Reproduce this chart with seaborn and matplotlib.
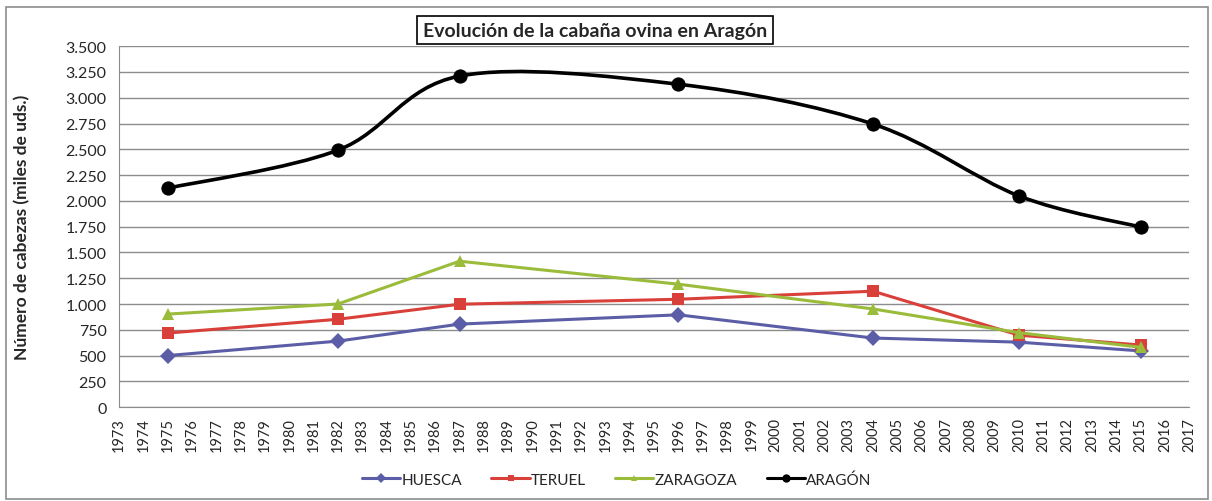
import matplotlib
matplotlib.use("Agg")
import matplotlib.pyplot as plt
import seaborn as sns
import numpy as np
import pandas as pd
from matplotlib.path import Path
from matplotlib.patches import PathPatch, Rectangle
from matplotlib.lines import Line2D

# Data (miles de cabezas)
years = [1975, 1982, 1987, 1996, 2004, 2010, 2015]
huesca = [500, 640, 805, 895, 670, 630, 545]
teruel = [718, 852, 998, 1046, 1124, 698, 602]
zaragoza = [902, 1000, 1415, 1192, 952, 722, 580]
aragon = [2123, 2492, 3210, 3131, 2745, 2048, 1746]

x_ticks = list(range(1973, 2018))
y_ticks = list(range(0, 3501, 250))

colors = {"HUESCA": "#5b5ea6", "TERUEL": "#d9403a", "ZARAGOZA": "#9bbb3b", "ARAGÓN": "#000000"}
markers = {"HUESCA": "D", "TERUEL": "s", "ZARAGOZA": "^", "ARAGÓN": "o"}


def fmt_thousands(v):
    return f"{int(v):,}".replace(",", ".")


def smooth_path(xs, ys, tension=1 / 6):
    # Catmull-Rom style bezier path, like Excel's smoothed line
    xs = np.asarray(xs, float)
    ys = np.asarray(ys, float)
    verts = [(xs[0], ys[0])]
    codes = [Path.MOVETO]
    n = len(xs)
    for i in range(n - 1):
        x0, y0 = (xs[i - 1], ys[i - 1]) if i > 0 else (xs[i], ys[i])
        x3, y3 = (xs[i + 2], ys[i + 2]) if i + 2 < n else (xs[i + 1], ys[i + 1])
        c1 = (xs[i] + (xs[i + 1] - x0) * tension, ys[i] + (ys[i + 1] - y0) * tension)
        c2 = (xs[i + 1] - (x3 - xs[i]) * tension, ys[i + 1] - (y3 - ys[i]) * tension)
        verts += [c1, c2, (xs[i + 1], ys[i + 1])]
        codes += [Path.CURVE4] * 3
    return Path(verts, codes)


sns.set_style("white")
plt.rcParams["font.family"] = ["Lato", "DejaVu Sans"]

fig = plt.figure(figsize=(12.12, 5.02), dpi=100)
ax = fig.add_axes([0.0982, 0.187, 0.883, 0.719])

df = pd.DataFrame({"year": years, "HUESCA": huesca, "TERUEL": teruel, "ZARAGOZA": zaragoza})
long_df = df.melt(id_vars="year", var_name="serie", value_name="valor")
sns.lineplot(data=long_df, x="year", y="valor", hue="serie", style="serie",
             palette=colors, markers=markers, dashes=False, linewidth=2.2,
             markersize=8, markeredgewidth=0, legend=False, ax=ax)

# Aragón total: smoothed line + markers
ax.add_patch(PathPatch(smooth_path(years, aragon), facecolor="none",
                       edgecolor="black", linewidth=2.6, zorder=3))
sns.scatterplot(x=years, y=aragon, color="black", s=90, marker="o",
                edgecolor="black", zorder=4, ax=ax)

ax.set_xlim(1973, 2017)
ax.set_ylim(0, 3500)
ax.set_xticks(x_ticks)
ax.set_xticklabels([str(y) for y in x_ticks], rotation=90, fontsize=10.5)
ax.set_yticks(y_ticks)
ax.set_yticklabels([fmt_thousands(v) for v in y_ticks], fontsize=11.5)
ax.grid(axis="y", color="#8c8c8c", linewidth=1)
ax.grid(axis="x", visible=False)
for side in ["top", "right"]:
    ax.spines[side].set_visible(False)
ax.spines["left"].set_color("#8c8c8c")
ax.spines["bottom"].set_color("#8c8c8c")
ax.tick_params(axis="x", direction="out", length=5, color="#8c8c8c", pad=2)
ax.tick_params(axis="y", direction="out", length=5, color="#8c8c8c", pad=4)
ax.set_xlabel("")
ax.set_ylabel("Número de cabezas (miles de uds.)", fontsize=12.5, fontweight="bold")
ax.yaxis.set_label_coords(-0.083, 0.5)

fig.text(0.491, 0.938, "Evolución de la cabaña ovina en Aragón", ha="center", va="center",
         fontsize=14, fontweight="bold",
         bbox=dict(boxstyle="square,pad=0.3", facecolor="white", edgecolor="black", linewidth=1.2))

handles = [Line2D([0], [0], color=colors[k], marker=markers[k], linewidth=2.2,
                  markersize=5 if k != "ARAGÓN" else 6, markeredgewidth=0)
           for k in colors]
fig.legend(handles, list(colors.keys()), loc="center", bbox_to_anchor=(0.509, 0.043),
           ncol=4, frameon=False, fontsize=11, handlelength=2.5, handletextpad=0.1,
           columnspacing=1.9)

# outer chart border
fig.add_artist(Rectangle((0.005, 0.004), 0.992, 0.98, transform=fig.transFigure,
                         fill=False, edgecolor="#8c8c8c", linewidth=1.2))

fig.savefig("out.png", dpi=100)
